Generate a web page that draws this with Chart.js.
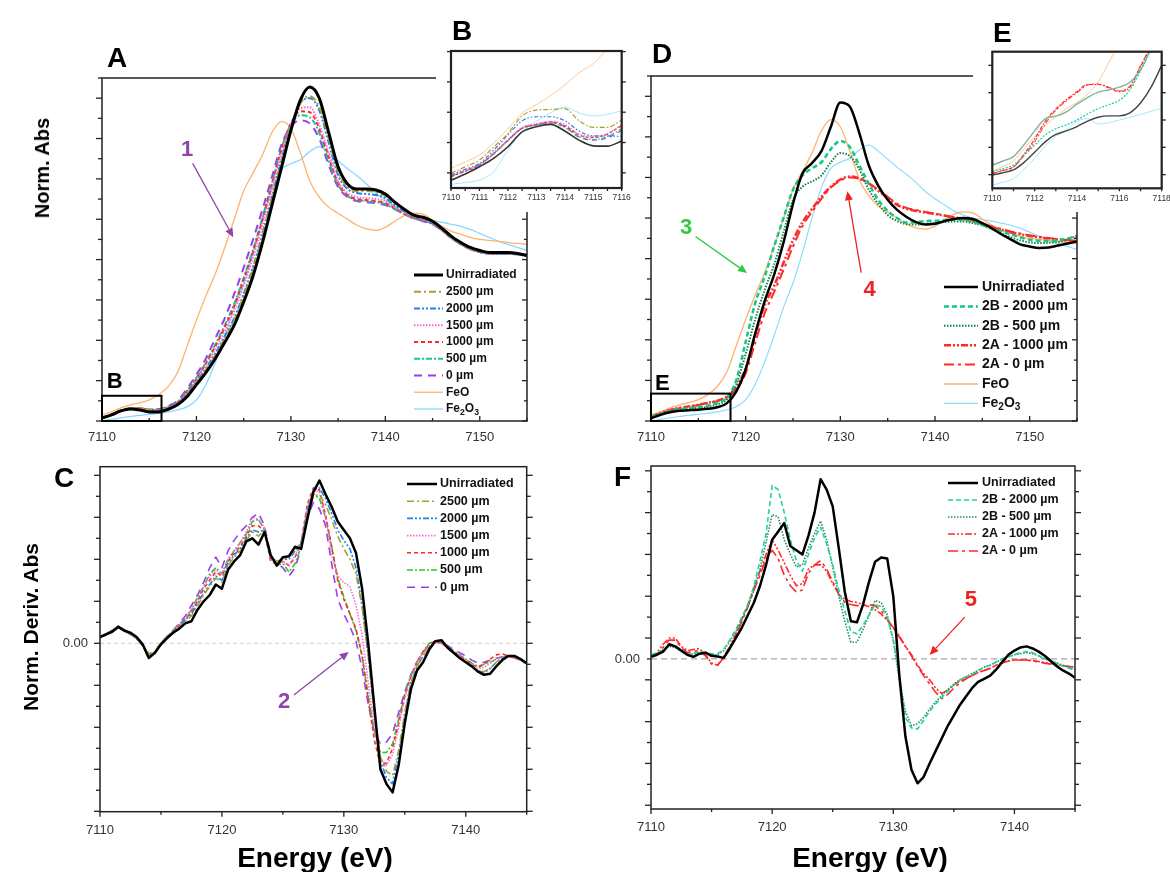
<!DOCTYPE html>
<html>
<head>
<meta charset="utf-8">
<title>Fe K-edge XANES</title>
<script src="https://cdn.jsdelivr.net/npm/chart.js@4.4.1/dist/chart.umd.min.js"></script>
<style>
  html, body { margin: 0; padding: 0; background: #fff; }
  body { position: relative; width: 1170px; height: 872px; overflow: hidden; font-family: "Liberation Sans", Arial, sans-serif; }
  canvas { position: absolute; }
  .t { position: absolute; font-weight: bold; line-height: 1; white-space: nowrap; z-index: 5; color: #000; }
</style>
</head>
<body>
<script>
const FONT = '"Liberation Sans", Arial, sans-serif';

// ---- XANES (panels A and D), 1 eV grid ----
const energyXanes = [7110,7111,7112,7113,7114,7115,7116,7117,7118,7119,7120,7121,7122,7123,7124,7125,7126,7127,7128,7129,7130,7131,7132,7133,7134,7135,7136,7137,7138,7139,7140,7141,7142,7143,7144,7145,7146,7147,7148,7149,7150,7151,7152,7153,7154,7155];

const unirrA = [0.015,0.03,0.05,0.06,0.055,0.045,0.045,0.058,0.08,0.12,0.18,0.24,0.31,0.39,0.475,0.59,0.72,0.885,1.07,1.255,1.44,1.59,1.655,1.60,1.43,1.26,1.175,1.15,1.15,1.145,1.125,1.085,1.05,1.02,1.01,0.99,0.955,0.915,0.885,0.86,0.845,0.835,0.835,0.835,0.83,0.82];
const a2500 = [0.015,0.032,0.052,0.064,0.064,0.056,0.055,0.065,0.085,0.13,0.19,0.255,0.325,0.41,0.5,0.62,0.755,0.92,1.1,1.285,1.455,1.575,1.61,1.555,1.40,1.235,1.16,1.14,1.14,1.135,1.115,1.08,1.045,1.015,1.005,0.985,0.95,0.91,0.88,0.855,0.84,0.832,0.83,0.83,0.828,0.82];
const a2000 = [0.015,0.031,0.051,0.063,0.062,0.054,0.054,0.065,0.087,0.135,0.195,0.26,0.335,0.42,0.51,0.63,0.765,0.93,1.11,1.295,1.46,1.575,1.60,1.54,1.38,1.22,1.15,1.13,1.125,1.12,1.105,1.07,1.04,1.012,1.0,0.982,0.948,0.908,0.878,0.853,0.838,0.83,0.828,0.828,0.826,0.818];
const a1500 = [0.015,0.031,0.051,0.063,0.063,0.056,0.056,0.068,0.09,0.14,0.205,0.275,0.355,0.445,0.545,0.67,0.81,0.97,1.15,1.325,1.47,1.55,1.555,1.47,1.33,1.19,1.13,1.11,1.105,1.10,1.09,1.06,1.03,1.008,0.997,0.98,0.946,0.906,0.876,0.852,0.837,0.83,0.828,0.828,0.826,0.818];
const a1000 = [0.015,0.031,0.051,0.063,0.063,0.056,0.056,0.07,0.093,0.145,0.21,0.285,0.37,0.465,0.57,0.70,0.84,1.0,1.175,1.345,1.475,1.535,1.53,1.45,1.31,1.18,1.12,1.10,1.095,1.09,1.08,1.055,1.028,1.006,0.995,0.978,0.945,0.906,0.876,0.852,0.837,0.83,0.828,0.828,0.826,0.818];
const a500 = [0.015,0.031,0.051,0.063,0.063,0.056,0.057,0.072,0.095,0.15,0.215,0.29,0.38,0.475,0.58,0.71,0.85,1.01,1.18,1.35,1.47,1.515,1.505,1.43,1.29,1.17,1.115,1.095,1.09,1.085,1.075,1.05,1.025,1.004,0.993,0.976,0.944,0.906,0.876,0.852,0.837,0.83,0.828,0.828,0.826,0.818];
const a0 = [0.015,0.031,0.051,0.063,0.062,0.056,0.058,0.075,0.1,0.16,0.23,0.31,0.41,0.51,0.63,0.76,0.9,1.05,1.21,1.37,1.46,1.49,1.475,1.40,1.27,1.16,1.11,1.09,1.085,1.08,1.07,1.05,1.025,1.005,0.99,0.975,0.945,0.91,0.88,0.855,0.84,0.83,0.83,0.83,0.83,0.825];
const feo = [0.03,0.045,0.065,0.08,0.09,0.105,0.13,0.17,0.24,0.37,0.5,0.62,0.73,0.86,1.0,1.14,1.23,1.32,1.43,1.485,1.45,1.33,1.19,1.11,1.06,1.03,1.0,0.97,0.952,0.945,0.96,0.99,1.018,1.03,1.025,0.995,0.965,0.94,0.925,0.91,0.90,0.895,0.89,0.885,0.88,0.876];
const fe2o3 = [0.0,0.008,0.016,0.022,0.028,0.033,0.038,0.045,0.055,0.07,0.105,0.18,0.29,0.42,0.56,0.68,0.83,1.0,1.15,1.245,1.275,1.295,1.335,1.36,1.33,1.29,1.25,1.215,1.175,1.13,1.095,1.065,1.035,1.015,1.0,0.993,0.985,0.975,0.965,0.95,0.93,0.91,0.89,0.875,0.86,0.845];

const unirrD = [0.013,0.03,0.043,0.05,0.053,0.056,0.06,0.068,0.087,0.145,0.255,0.43,0.59,0.72,0.88,1.07,1.22,1.27,1.33,1.45,1.57,1.55,1.42,1.26,1.16,1.09,1.04,1.005,0.98,0.968,0.972,0.985,0.995,1.0,0.995,0.975,0.95,0.92,0.895,0.87,0.86,0.853,0.855,0.865,0.875,0.885];
const b2000 = [0.02,0.035,0.05,0.058,0.063,0.068,0.075,0.09,0.115,0.2,0.39,0.58,0.71,0.86,1.0,1.14,1.21,1.245,1.275,1.34,1.38,1.35,1.26,1.17,1.09,1.035,1.0,0.978,0.98,0.985,0.987,0.99,0.992,0.99,0.98,0.965,0.95,0.935,0.92,0.905,0.893,0.888,0.886,0.89,0.9,0.91];
const b500 = [0.02,0.035,0.048,0.055,0.06,0.064,0.07,0.082,0.105,0.18,0.33,0.5,0.645,0.77,0.93,1.09,1.155,1.18,1.21,1.275,1.32,1.305,1.24,1.14,1.07,1.015,0.985,0.97,0.968,0.972,0.976,0.98,0.983,0.983,0.975,0.965,0.945,0.925,0.905,0.89,0.88,0.877,0.878,0.882,0.895,0.913];
const c1000 = [0.02,0.04,0.055,0.065,0.072,0.08,0.09,0.1,0.12,0.17,0.26,0.42,0.57,0.665,0.78,0.89,0.98,1.045,1.105,1.155,1.19,1.205,1.195,1.17,1.135,1.10,1.065,1.045,1.035,1.027,1.02,1.012,1.003,0.996,0.985,0.97,0.955,0.943,0.93,0.92,0.912,0.905,0.9,0.894,0.89,0.885];
const c0 = [0.02,0.038,0.053,0.063,0.07,0.078,0.088,0.098,0.115,0.155,0.235,0.385,0.53,0.635,0.745,0.86,0.96,1.03,1.095,1.15,1.185,1.20,1.195,1.172,1.14,1.105,1.07,1.05,1.04,1.03,1.022,1.013,1.004,0.997,0.987,0.973,0.958,0.946,0.934,0.924,0.915,0.908,0.902,0.896,0.892,0.888];

// ---- inset B (pre-edge, arbitrary units) ----
const energyInsetB = [7110,7110.5,7111,7111.5,7112,7112.5,7113,7113.5,7114,7114.5,7115,7115.5,7116];
const preB_unirr = [-0.24,-0.04,0.2,0.48,0.86,1.35,1.52,1.6,1.38,1.08,0.89,0.88,1.05];
const preB_2500 = [-0.02,0.2,0.42,0.85,1.3,1.88,2.07,2.09,2.12,1.72,1.5,1.5,1.74];
const preB_2000 = [-0.07,0.12,0.31,0.75,1.25,1.72,1.85,1.85,1.72,1.38,1.22,1.22,1.2];
const preB_1500 = [-0.1,0.08,0.28,0.66,1.1,1.5,1.62,1.7,1.6,1.28,1.2,1.3,1.58];
const preB_1000 = [-0.12,0.06,0.26,0.64,1.08,1.48,1.6,1.68,1.55,1.25,1.16,1.28,1.56];
const preB_500 = [-0.13,0.05,0.25,0.62,1.06,1.46,1.57,1.64,1.5,1.2,1.1,1.2,1.45];
const preB_0 = [-0.11,0.07,0.27,0.64,1.07,1.47,1.58,1.66,1.52,1.18,1.08,1.15,1.4];
const preB_feo = [0.15,0.36,0.59,0.98,1.45,1.97,2.25,2.55,2.9,3.3,3.6,4.1,4.6];
const preB_fe2o3 = [-0.38,-0.32,-0.24,0.04,0.75,1.35,1.7,1.98,2.17,1.98,1.88,1.93,2.05];

// ---- inset E ----
const energyInsetE = [7110,7110.5,7111,7111.5,7112,7112.5,7113,7113.5,7114,7114.5,7115,7115.5,7116,7116.5,7117,7117.5,7118];
const preE_unirr = [-0.01,0.07,0.17,0.45,0.82,1.2,1.47,1.6,1.76,1.96,2.1,2.15,2.15,2.26,2.62,3.2,4.0];
const preE_2B2000 = [0.11,0.22,0.35,0.7,1.08,1.45,1.68,1.82,2.0,2.22,2.42,2.56,2.72,3.1,3.8,4.6,5.3];
const preE_2B500 = [0.35,0.5,0.66,1.1,1.6,2.05,2.14,2.3,2.58,2.82,3.02,3.1,3.2,3.38,3.83,4.6,5.3];
const preE_2A1000 = [0.05,0.16,0.29,0.75,1.3,1.95,2.4,2.75,3.04,3.3,3.3,3.18,3.04,3.2,3.95,4.7,5.4];
const preE_2A0 = [0.03,0.14,0.27,0.7,1.2,1.85,2.35,2.7,3.0,3.28,3.32,3.2,3.07,3.25,4.0,4.7,5.4];
const preE_feo = [0.11,0.3,0.5,0.95,1.4,1.8,2.12,2.42,2.64,2.95,3.4,4.1,4.8,5.5,6.2,6.9,7.6];
const preE_fe2o3 = [-0.38,-0.28,-0.15,0.2,0.6,1.05,1.4,1.65,1.95,2.05,1.85,1.9,2.0,2.1,2.2,2.32,2.43];

// ---- first derivatives (panels C and F), units of 0.01 ----
const energyDeriv = [7110,7110.5,7111,7111.5,7112,7112.5,7113,7113.5,7114,7114.5,7115,7115.5,7116,7116.5,7117,7117.5,7118,7118.5,7119,7119.5,7120,7120.5,7121,7121.5,7122,7122.5,7123,7123.5,7124,7124.5,7125,7125.5,7126,7126.5,7127,7127.5,7128,7128.5,7129,7129.5,7130,7130.5,7131,7131.5,7132,7132.5,7133,7133.5,7134,7134.5,7135,7135.5,7136,7136.5,7137,7137.5,7138,7138.5,7139,7139.5,7140,7140.5,7141,7141.5,7142,7142.5,7143,7143.5,7144,7144.5,7145];

const dUnirrC = [0.3,0.42,0.55,0.78,0.6,0.5,0.3,-0.05,-0.7,-0.45,-0.05,0.25,0.5,0.7,0.95,1.05,1.6,2.0,2.3,2.8,2.6,3.5,3.9,4.2,4.85,5.0,4.7,5.3,4.2,3.7,4.1,4.15,4.6,4.5,5.9,7.2,7.75,7.1,6.5,5.8,5.4,5.0,4.3,2.6,0.0,-3.0,-6.0,-6.7,-7.1,-5.8,-3.8,-2.2,-1.3,-0.9,-0.3,0.1,0.15,-0.2,-0.45,-0.7,-0.9,-1.1,-1.35,-1.5,-1.45,-1.1,-0.8,-0.6,-0.6,-0.75,-0.95];
const d2500 = [0.3,0.45,0.6,0.8,0.62,0.45,0.25,-0.1,-0.6,-0.45,-0.02,0.28,0.55,0.75,1.05,1.3,1.8,2.3,2.7,3.1,2.9,3.7,4.1,4.4,4.9,5.3,5.1,5.4,4.1,3.9,4.0,4.1,4.5,4.7,6.0,7.0,7.1,6.6,5.9,5.1,4.5,4.0,3.3,1.7,-0.6,-3.3,-5.4,-6.1,-6.3,-5.1,-3.3,-1.9,-1.1,-0.6,-0.2,0.1,0.1,-0.2,-0.45,-0.7,-0.9,-1.1,-1.3,-1.35,-1.2,-0.9,-0.7,-0.6,-0.65,-0.8,-0.95];
const d2000 = [0.28,0.45,0.62,0.82,0.6,0.42,0.22,-0.12,-0.65,-0.5,-0.05,0.27,0.55,0.8,1.1,1.4,1.9,2.4,2.8,3.2,3.0,3.8,4.2,4.5,5.0,5.4,5.3,5.4,4.1,3.9,4.0,4.0,4.4,4.8,6.2,7.3,7.4,6.9,6.2,5.4,4.9,4.5,3.6,1.8,-0.6,-3.4,-5.6,-6.4,-6.7,-5.3,-3.4,-1.9,-1.1,-0.6,-0.2,0.1,0.1,-0.2,-0.45,-0.7,-0.9,-1.1,-1.3,-1.4,-1.2,-0.9,-0.7,-0.6,-0.65,-0.8,-1.0];
const d1500 = [0.32,0.46,0.6,0.78,0.66,0.46,0.26,-0.08,-0.55,-0.42,0.02,0.32,0.6,0.9,1.2,1.6,2.1,2.7,3.2,3.5,3.3,4.0,4.4,4.8,5.3,6.0,5.9,5.5,4.0,3.8,3.9,3.7,4.2,4.7,6.5,7.3,7.2,6.0,4.2,3.2,2.9,2.7,1.8,0.4,-1.9,-4.0,-5.5,-5.8,-5.3,-4.0,-2.6,-1.6,-0.9,-0.45,-0.1,0.05,0.0,-0.2,-0.4,-0.6,-0.85,-1.05,-1.2,-1.15,-0.95,-0.75,-0.65,-0.6,-0.7,-0.8,-0.95];
const d1000 = [0.3,0.44,0.58,0.8,0.64,0.44,0.24,-0.1,-0.58,-0.45,0.0,0.3,0.58,0.85,1.15,1.5,2.0,2.6,3.0,3.4,3.2,3.9,4.3,4.6,5.1,5.6,5.6,5.3,3.9,3.8,3.9,3.7,4.1,4.8,6.6,7.4,7.3,6.1,4.6,3.0,2.1,1.4,0.7,-0.6,-2.7,-4.6,-5.8,-5.7,-5.0,-3.8,-2.5,-1.6,-0.9,-0.4,-0.05,0.1,0.0,-0.2,-0.4,-0.6,-0.8,-1.0,-1.15,-1.0,-0.75,-0.55,-0.5,-0.6,-0.7,-0.8,-0.95];
const d500 = [0.32,0.46,0.62,0.82,0.66,0.46,0.26,-0.08,-0.5,-0.4,0.02,0.32,0.62,0.9,1.2,1.6,2.2,2.7,3.3,3.6,3.3,4.0,4.4,4.8,5.2,5.8,5.9,5.4,4.0,3.7,3.8,3.4,3.8,4.6,6.4,7.1,6.9,6.0,4.6,3.1,2.2,1.4,0.6,-0.6,-2.5,-4.2,-5.2,-5.2,-4.8,-3.6,-2.4,-1.5,-0.9,-0.4,0.0,0.1,0.0,-0.15,-0.35,-0.55,-0.75,-0.95,-1.1,-1.0,-0.9,-0.75,-0.65,-0.6,-0.65,-0.8,-0.95];
const d0 = [0.3,0.44,0.6,0.8,0.64,0.44,0.24,-0.1,-0.55,-0.42,0.02,0.32,0.62,0.95,1.3,1.8,2.3,2.9,3.6,4.1,3.6,4.4,4.9,5.3,5.6,6.0,6.2,5.6,4.2,3.8,3.6,3.2,3.6,4.5,6.0,6.7,6.4,5.6,3.8,2.1,1.4,0.8,0.1,-1.2,-2.9,-4.2,-4.8,-4.7,-4.3,-3.3,-2.3,-1.5,-0.9,-0.4,-0.1,0.1,0.0,-0.1,-0.3,-0.45,-0.6,-0.8,-0.95,-0.9,-0.8,-0.7,-0.65,-0.6,-0.7,-0.8,-0.95];

const dUnirrF = [0.1,0.2,0.35,0.7,0.6,0.4,0.2,0.1,0.25,0.3,0.15,0.12,0.05,0.5,1.0,1.5,2.1,2.7,3.5,4.5,5.7,6.1,6.5,5.4,5.2,5.0,5.9,7.0,8.6,8.1,7.3,5.3,3.2,1.8,1.75,2.6,3.7,4.65,4.85,4.8,3.0,-0.8,-3.7,-5.3,-5.95,-5.65,-5.0,-4.4,-3.8,-3.2,-2.7,-2.2,-1.8,-1.4,-1.1,-0.95,-0.8,-0.5,-0.15,0.2,0.4,0.55,0.6,0.5,0.35,0.15,-0.1,-0.35,-0.55,-0.7,-0.9];
const d2B2000 = [0.2,0.3,0.45,0.65,0.6,0.35,0.2,0.25,0.35,0.3,0.25,0.25,0.45,0.9,1.4,2.0,2.6,3.5,4.7,6.0,8.3,8.1,7.0,5.7,4.7,4.2,5.0,5.8,6.3,5.5,4.5,3.3,2.3,1.3,1.2,1.6,2.1,2.6,2.5,2.0,0.9,-0.8,-2.8,-3.3,-3.35,-2.95,-2.5,-2.15,-1.85,-1.55,-1.25,-1.0,-0.85,-0.75,-0.55,-0.4,-0.3,-0.15,0.0,0.1,0.2,0.3,0.35,0.3,0.15,0.0,-0.1,-0.2,-0.35,-0.45,-0.55];
const d2B500 = [0.15,0.25,0.4,0.6,0.55,0.35,0.2,0.25,0.3,0.3,0.2,0.2,0.4,0.85,1.3,1.9,2.5,3.3,4.3,5.6,6.9,6.8,5.7,5.0,4.4,4.5,5.3,6.0,6.6,5.7,4.4,3.0,1.8,0.8,0.8,1.4,2.1,2.8,2.7,2.1,0.9,-1.0,-2.5,-3.2,-3.1,-2.8,-2.4,-2.05,-1.75,-1.45,-1.2,-1.0,-0.85,-0.7,-0.55,-0.4,-0.3,-0.15,0.0,0.1,0.2,0.25,0.3,0.25,0.15,0.0,-0.1,-0.2,-0.3,-0.4,-0.5];
const d2A1000 = [0.1,0.3,0.7,1.0,1.0,0.6,0.4,0.45,0.5,0.2,-0.2,-0.3,0.1,0.6,1.2,1.9,2.6,3.4,4.2,5.0,5.7,5.2,4.6,4.0,3.5,3.6,4.3,4.5,4.5,4.2,3.6,3.1,2.85,2.75,2.7,2.6,2.5,2.35,2.15,1.85,1.5,1.1,0.6,0.2,-0.3,-0.7,-1.0,-1.4,-1.65,-1.5,-1.25,-1.05,-0.9,-0.8,-0.65,-0.55,-0.45,-0.3,-0.15,-0.1,-0.05,-0.05,-0.05,-0.08,-0.12,-0.18,-0.22,-0.28,-0.32,-0.36,-0.38];
const d2A0 = [0.1,0.25,0.55,0.9,0.9,0.55,0.3,0.35,0.4,0.15,-0.25,-0.3,0.05,0.5,1.1,1.8,2.5,3.3,4.0,4.8,5.2,4.8,4.0,3.5,3.2,3.3,4.1,4.5,4.7,4.3,3.7,3.1,2.7,2.6,2.55,2.55,2.6,2.55,2.3,1.9,1.5,1.05,0.6,0.15,-0.35,-0.8,-1.2,-1.6,-1.9,-1.7,-1.4,-1.15,-0.95,-0.8,-0.65,-0.55,-0.45,-0.3,-0.2,-0.1,-0.05,-0.05,-0.05,-0.1,-0.15,-0.2,-0.25,-0.3,-0.33,-0.36,-0.4];

// tick labels
const mainTicksXanes = [7110, 7120, 7130, 7140, 7150];
const mainTicksDeriv = [7110, 7120, 7130, 7140];
const insetTicksB = [7110, 7111, 7112, 7113, 7114, 7115, 7116];
const insetTicksE = [7110, 7112, 7114, 7116, 7118];

// ---------- helpers ----------
const DECOR = new Map();

function drawLabel(c, txt, x, y, size) {
  c.fillStyle = '#111'; c.textAlign = 'left'; c.textBaseline = 'middle';
  const subs = '₀₁₂₃₄₅₆₇₈₉';
  for (const ch of txt) {
    const k = subs.indexOf(ch);
    if (k >= 0) {
      c.font = `bold ${size * 0.72}px ${FONT}`;
      c.fillText(String(k), x, y + size * 0.3);
      x += c.measureText(String(k)).width;
    } else {
      c.font = `bold ${size}px ${FONT}`;
      c.fillText(ch, x, y);
      x += c.measureText(ch).width;
    }
  }
}

const decor = {
  id: 'decor',
  beforeDraw(chart) {
    const o = DECOR.get(chart.canvas);
    if (!o.white) return;
    const c = chart.ctx;
    c.save(); c.fillStyle = '#fff'; c.fillRect(0, 0, chart.width, chart.height); c.restore();
  },
  beforeDatasetsDraw(chart) {
    const o = DECOR.get(chart.canvas);
    if (!o.zero) return;
    const c = chart.ctx, a = chart.chartArea, y = chart.scales.y.getPixelForValue(0);
    c.save(); c.strokeStyle = o.zero.color; c.lineWidth = o.zero.width; c.setLineDash(o.zero.dash);
    c.beginPath(); c.moveTo(a.left, y); c.lineTo(a.right, y); c.stroke(); c.restore();
  },
  afterDraw(chart) {
    const o = DECOR.get(chart.canvas);
    const c = chart.ctx, a = chart.chartArea, sx = chart.scales.x, sy = chart.scales.y;
    const P = (e, v) => [sx.getPixelForValue(e), sy.getPixelForValue(v)];
    c.save();
    c.strokeStyle = '#222'; c.lineWidth = o.frameWidth; c.setLineDash([]);
    c.strokeRect(a.left, a.top, a.right - a.left, a.bottom - a.top);

    (o.ticks || []).forEach(t => {
      const sc = t.axis === 'x' ? sx : sy;
      const n = Math.round((t.to - t.from) / t.step);
      const dir = { left: [-1, 0], right: [1, 0], bottom: [0, 1] }[t.side];
      const s = t.inward ? -1 : 1;
      c.lineWidth = t.lw || 1.3;
      for (let i = 0; i <= n; i++) {
        const p = sc.getPixelForValue(t.from + i * t.step);
        const len = (i % (t.every || 1) === 0) ? t.len : t.minor;
        const x0 = t.side === 'left' ? a.left : t.side === 'right' ? a.right : p;
        const y0 = t.side === 'bottom' ? a.bottom : p;
        c.beginPath(); c.moveTo(x0, y0); c.lineTo(x0 + dir[0] * s * len, y0 + dir[1] * s * len); c.stroke();
      }
    });

    (o.boxes || []).forEach(b => {
      const [x0, y0] = P(b.x0, b.y0), [x1, y1] = P(b.x1, b.y1);
      c.lineWidth = 2; c.strokeStyle = '#000';
      c.strokeRect(x0, y1, x1 - x0, y0 - y1);
      c.fillStyle = '#000'; c.font = `bold ${b.size}px ${FONT}`;
      c.textAlign = 'left'; c.textBaseline = 'alphabetic';
      const [tx, ty] = P(b.labelAt[0], b.labelAt[1]);
      c.fillText(b.label, tx, ty);
    });

    (o.arrows || []).forEach(ar => {
      const [x0, y0] = P(ar.from[0], ar.from[1]), [x1, y1] = P(ar.to[0], ar.to[1]);
      c.strokeStyle = ar.color; c.fillStyle = ar.color; c.lineWidth = 1.3;
      const ang = Math.atan2(y1 - y0, x1 - x0), h = 9, w = 4;
      const bx = x1 - h * Math.cos(ang), by = y1 - h * Math.sin(ang);
      c.beginPath(); c.moveTo(x0, y0); c.lineTo(bx, by); c.stroke();
      c.beginPath(); c.moveTo(x1, y1);
      c.lineTo(bx + w * Math.sin(ang), by - w * Math.cos(ang));
      c.lineTo(bx - w * Math.sin(ang), by + w * Math.cos(ang));
      c.closePath(); c.fill();
      c.font = `bold ${ar.size}px ${FONT}`; c.textAlign = 'center'; c.textBaseline = 'middle';
      const [tx, ty] = P(ar.at[0], ar.at[1]);
      c.fillText(ar.text, tx, ty);
    });

    if (o.legend) {
      const L = o.legend;
      chart.data.datasets.forEach((d, i) => {
        const y = L.y + i * L.row - o.origin[1], x = L.x - o.origin[0];
        c.strokeStyle = d.borderColor; c.lineWidth = d.borderWidth; c.setLineDash(d.borderDash || []);
        c.beginPath(); c.moveTo(x, y); c.lineTo(x + L.len, y); c.stroke();
        c.setLineDash([]);
        drawLabel(c, d.label, x + L.len + L.gap, y, L.size);
      });
    }
    c.restore();
  }
};

function panel(p) {
  const cv = document.createElement('canvas');
  const [bl, bt, bw, bh] = p.box;
  cv.width = bw; cv.height = bh;
  cv.style.left = bl + 'px'; cv.style.top = bt + 'px';
  document.body.appendChild(cv);
  const [al, at, ar, ab] = p.area;
  const wy = al - bl, tp = at - bt, rp = bl + bw - ar, hx = bt + bh - ab;
  DECOR.set(cv, Object.assign({ origin: [bl, bt] }, p.decor));
  return new Chart(cv, {
    type: 'line',
    data: {
      datasets: p.series.map(s => ({
        label: s.label,
        data: p.energy.map((e, i) => ({ x: e, y: s.values[i] })),
        borderColor: s.color, borderWidth: s.width, borderDash: s.dash || [],
        pointRadius: 0, fill: false,
        tension: p.smooth ? 0.4 : 0,
        cubicInterpolationMode: p.smooth ? 'monotone' : 'default',
        borderJoinStyle: 'round'
      }))
    },
    options: {
      responsive: false, animation: false, devicePixelRatio: 1, events: [],
      layout: { autoPadding: false, padding: { left: 0, top: tp, right: rp, bottom: 0 } },
      plugins: { legend: { display: false }, tooltip: { enabled: false } },
      scales: {
        x: {
          type: 'linear', min: p.x[0], max: p.x[1],
          grid: { display: false, drawTicks: false }, border: { display: false },
          ticks: {
            stepSize: p.x[2], padding: p.xPad, color: '#333', maxRotation: 0, autoSkip: false,
            font: { family: FONT, size: p.xFont },
            callback: v => p.xLabels.includes(v) ? String(v) : ''
          },
          afterFit: s => { s.height = hx; s.paddingLeft = 0; s.paddingRight = 0; }
        },
        y: {
          type: 'linear', min: p.y[0], max: p.y[1],
          grid: { display: false, drawTicks: false }, border: { display: false },
          ticks: {
            display: !!p.yZero, stepSize: p.y[2], padding: p.yPad || 0, color: '#333',
            font: { family: FONT, size: 13 },
            callback: v => (p.yZero && Math.abs(v) < 1e-9) ? p.yZero : ''
          },
          afterFit: s => { s.width = wy; s.paddingTop = 0; s.paddingBottom = 0; }
        }
      }
    },
    plugins: [decor]
  });
}

function text(txt, x, base, size, center) {
  const d = document.createElement('div');
  d.className = 't'; d.textContent = txt;
  d.style.fontSize = size + 'px';
  d.style.left = x + 'px';
  d.style.top = (base - 0.8465 * size) + 'px';
  if (center) d.style.transform = 'translateX(-50%)';
  document.body.appendChild(d);
}
function vtext(txt, cx, cy, size) {
  const d = document.createElement('div');
  d.className = 't'; d.textContent = txt;
  d.style.fontSize = size + 'px';
  d.style.left = cx + 'px'; d.style.top = cy + 'px';
  d.style.transform = 'translate(-50%,-50%) rotate(-90deg)';
  document.body.appendChild(d);
}

// ---------- series styles ----------
const BLACK = '#000000', OLIVE = '#a8a02a', BLUE = '#1a84ee', PINK = '#ff66d8', RED = '#ff2a2a',
      TEAL = '#14c98c', PURPLE = '#9a3cf0', ORANGE = '#ffb26e', SKY = '#86d9ff',
      GREEN = '#22cc22', DKGREEN = '#17804a', CYAN = '#1fd3a4';

// ---------- Panel A ----------
panel({
  box: [0, 60, 545, 390], area: [102, 78, 527, 421],
  energy: energyXanes, smooth: true,
  x: [7110, 7155, 10], xLabels: mainTicksXanes, xPad: 9, xFont: 13,
  y: [0, 1.7, 0.1],
  series: [
    { label: 'Unirradiated', values: unirrA, color: BLACK, width: 3 },
    { label: '2500 µm', values: a2500, color: OLIVE, width: 2, dash: [7, 3, 2, 3] },
    { label: '2000 µm', values: a2000, color: BLUE, width: 2, dash: [6, 2, 2, 2, 2, 2] },
    { label: '1500 µm', values: a1500, color: PINK, width: 2, dash: [1.5, 1.5] },
    { label: '1000 µm', values: a1000, color: RED, width: 2, dash: [4, 3] },
    { label: '500 µm', values: a500, color: TEAL, width: 2, dash: [6, 2, 2, 2] },
    { label: '0 µm', values: a0, color: PURPLE, width: 2, dash: [8, 6] },
    { label: 'FeO', values: feo, color: ORANGE, width: 1.3 },
    { label: 'Fe₂O₃', values: fe2o3, color: SKY, width: 1.3 }
  ],
  decor: {
    frameWidth: 1.5,
    ticks: [
      { axis: 'y', side: 'left', from: 0, to: 1.7, step: 0.1, every: 2, len: 6, minor: 4 },
      { axis: 'y', side: 'right', inward: true, from: 0, to: 1.7, step: 0.1, every: 2, len: 5, minor: 3 },
      { axis: 'x', side: 'bottom', inward: true, from: 7110, to: 7155, step: 5, every: 2, len: 5, minor: 3 }
    ],
    boxes: [{ x0: 7110, x1: 7116.3, y0: 0, y1: 0.125, label: 'B', labelAt: [7110.5, 0.163], size: 22 }],
    arrows: [{ from: [7119.6, 1.277], to: [7123.9, 0.911], color: '#8e44ad', text: '1', at: [7119.0, 1.345], size: 22 }],
    legend: { x: 414, y: 275, row: 16.75, len: 29, gap: 3, size: 12 }
  }
});

// ---------- Panel D ----------
panel({
  box: [560, 60, 600, 390], area: [651, 76, 1077, 421],
  energy: energyXanes, smooth: true,
  x: [7110, 7155, 10], xLabels: mainTicksXanes, xPad: 9, xFont: 13,
  y: [0, 1.7, 0.1],
  series: [
    { label: 'Unirradiated', values: unirrD, color: BLACK, width: 2.5 },
    { label: '2B - 2000 µm', values: b2000, color: '#12c884', width: 2.5, dash: [5, 3] },
    { label: '2B - 500 µm', values: b500, color: DKGREEN, width: 2, dash: [1.5, 1.5] },
    { label: '2A - 1000 µm', values: c1000, color: RED, width: 2.5, dash: [7, 2, 2, 2, 2, 2] },
    { label: '2A - 0 µm', values: c0, color: RED, width: 2, dash: [10, 4, 3, 4] },
    { label: 'FeO', values: feo, color: ORANGE, width: 1.3 },
    { label: 'Fe₂O₃', values: fe2o3, color: SKY, width: 1.1 }
  ],
  decor: {
    frameWidth: 1.5,
    ticks: [
      { axis: 'y', side: 'left', from: 0, to: 1.7, step: 0.1, every: 2, len: 6, minor: 4 },
      { axis: 'y', side: 'right', inward: true, from: 0, to: 1.7, step: 0.1, every: 2, len: 5, minor: 3 },
      { axis: 'x', side: 'bottom', inward: true, from: 7110, to: 7155, step: 5, every: 2, len: 5, minor: 3 }
    ],
    boxes: [{ x0: 7110, x1: 7118.4, y0: 0, y1: 0.135, label: 'E', labelAt: [7110.42, 0.153], size: 22 }],
    arrows: [
      { from: [7114.7, 0.909], to: [7120.15, 0.729], color: '#2ecc40', text: '3', at: [7113.7, 0.953], size: 22 },
      { from: [7132.2, 0.731], to: [7130.75, 1.132], color: '#ee2222', text: '4', at: [7133.1, 0.647], size: 22 }
    ],
    legend: { x: 944, y: 287, row: 19.4, len: 34, gap: 4, size: 14 }
  }
});

// ---------- Panel C ----------
panel({
  box: [0, 455, 545, 390], area: [100, 466.7, 526.7, 811.7],
  energy: energyDeriv, smooth: false,
  x: [7110, 7145, 10], xLabels: mainTicksDeriv, xPad: 11, xFont: 13,
  y: [-8.02, 8.41, 1], yZero: '0.00', yPad: 12,
  series: [
    { label: 'Unirradiated', values: dUnirrC, color: BLACK, width: 2.5 },
    { label: '2500 µm', values: d2500, color: OLIVE, width: 1.6, dash: [7, 3, 2, 3] },
    { label: '2000 µm', values: d2000, color: BLUE, width: 1.6, dash: [6, 2, 2, 2, 2, 2] },
    { label: '1500 µm', values: d1500, color: PINK, width: 1.6, dash: [1.5, 1.5] },
    { label: '1000 µm', values: d1000, color: RED, width: 1.6, dash: [4, 3] },
    { label: '500 µm', values: d500, color: GREEN, width: 1.6, dash: [6, 2, 2, 2] },
    { label: '0 µm', values: d0, color: PURPLE, width: 1.6, dash: [8, 6] }
  ],
  decor: {
    frameWidth: 1.5,
    zero: { color: '#d0d0d0', width: 1, dash: [4, 3] },
    ticks: [
      { axis: 'y', side: 'left', from: -8, to: 8, step: 1, every: 2, len: 6, minor: 4 },
      { axis: 'y', side: 'right', from: -8, to: 8, step: 1, every: 2, len: 6, minor: 4 },
      { axis: 'x', side: 'bottom', from: 7110, to: 7145, step: 5, every: 2, len: 5, minor: 3 }
    ],
    arrows: [{ from: [7125.9, -2.46], to: [7130.4, -0.41], color: '#8e44ad', text: '2', at: [7125.1, -2.8], size: 22 }],
    legend: { x: 407, y: 484, row: 17.2, len: 30, gap: 3, size: 12.5 }
  }
});

// ---------- Panel F ----------
panel({
  box: [560, 455, 540, 390], area: [651, 466, 1075, 809],
  energy: energyDeriv, smooth: false,
  x: [7110, 7145, 10], xLabels: mainTicksDeriv, xPad: 11, xFont: 13,
  y: [-7.18, 9.23, 1], yZero: '0.00', yPad: 11,
  series: [
    { label: 'Unirradiated', values: dUnirrF, color: BLACK, width: 2.5 },
    { label: '2B - 2000 µm', values: d2B2000, color: CYAN, width: 1.6, dash: [5, 3] },
    { label: '2B - 500 µm', values: d2B500, color: '#2a8a5a', width: 1.6, dash: [1.5, 1.5] },
    { label: '2A - 1000 µm', values: d2A1000, color: RED, width: 1.6, dash: [7, 2, 2, 2, 2, 2] },
    { label: '2A - 0 µm', values: d2A0, color: RED, width: 1.6, dash: [10, 4, 3, 4] }
  ],
  decor: {
    frameWidth: 1.5,
    zero: { color: '#a8a8a8', width: 1.2, dash: [6, 4] },
    ticks: [
      { axis: 'y', side: 'left', from: -7, to: 9, step: 1, every: 2, len: 6, minor: 4 },
      { axis: 'y', side: 'right', from: -7, to: 9, step: 1, every: 2, len: 6, minor: 4 },
      { axis: 'x', side: 'bottom', from: 7110, to: 7145, step: 5, every: 2, len: 5, minor: 3 }
    ],
    arrows: [{ from: [7135.9, 2.0], to: [7133.0, 0.19], color: '#ee2222', text: '5', at: [7136.4, 2.82], size: 22 }],
    legend: { x: 948, y: 483, row: 17, len: 30, gap: 4, size: 12.5 }
  }
});

// ---------- Inset B ----------
panel({
  box: [436, 44, 200, 168], area: [451, 51, 621.7, 188],
  energy: energyInsetB, smooth: true,
  x: [7110, 7116, 1], xLabels: insetTicksB, xPad: 5, xFont: 8.5,
  y: [-0.5, 4.02, 1],
  series: [
    { label: 'Unirradiated', values: preB_unirr, color: '#333', width: 1.6 },
    { label: '2500 µm', values: preB_2500, color: OLIVE, width: 1.2, dash: [5, 2, 1.5, 2] },
    { label: '2000 µm', values: preB_2000, color: BLUE, width: 1.2, dash: [4, 2, 1.5, 2, 1.5, 2] },
    { label: '1500 µm', values: preB_1500, color: PINK, width: 1.3, dash: [1.5, 1.5] },
    { label: '1000 µm', values: preB_1000, color: RED, width: 1.3, dash: [3, 2] },
    { label: '500 µm', values: preB_500, color: TEAL, width: 1.2, dash: [4, 2, 1.5, 2] },
    { label: '0 µm', values: preB_0, color: PURPLE, width: 1.2, dash: [5, 4] },
    { label: 'FeO', values: preB_feo, color: '#ffc89a', width: 1 },
    { label: 'Fe₂O₃', values: preB_fe2o3, color: '#a8e6ff', width: 1 }
  ],
  decor: {
    white: true, frameWidth: 2.2,
    ticks: [
      { axis: 'y', side: 'left', from: 0, to: 4, step: 1, len: 4 },
      { axis: 'y', side: 'right', from: 0, to: 4, step: 1, len: 4 },
      { axis: 'x', side: 'bottom', from: 7110, to: 7116, step: 0.5, len: 3 }
    ]
  }
});

// ---------- Inset E ----------
panel({
  box: [973, 44, 197, 168], area: [992.3, 51.7, 1161.7, 188.3],
  energy: energyInsetE, smooth: true,
  x: [7110, 7118, 2], xLabels: insetTicksE, xPad: 5, xFont: 8.5,
  y: [-0.5, 4.5, 1],
  series: [
    { label: 'Unirradiated', values: preE_unirr, color: '#444', width: 1.4 },
    { label: '2B - 2000 µm', values: preE_2B2000, color: CYAN, width: 1.3, dash: [2, 1.5] },
    { label: '2B - 500 µm', values: preE_2B500, color: '#7fb49a', width: 1.4 },
    { label: '2A - 1000 µm', values: preE_2A1000, color: RED, width: 1.2, dash: [4, 1.5, 1.5, 1.5] },
    { label: '2A - 0 µm', values: preE_2A0, color: '#ff5050', width: 1.1, dash: [5, 2, 2, 2] },
    { label: 'FeO', values: preE_feo, color: '#ffc89a', width: 1 },
    { label: 'Fe₂O₃', values: preE_fe2o3, color: '#a8e6ff', width: 1 }
  ],
  decor: {
    white: true, frameWidth: 2.2,
    ticks: [
      { axis: 'y', side: 'left', from: 0, to: 4, step: 1, len: 4 },
      { axis: 'y', side: 'right', from: 0, to: 4, step: 1, len: 4 },
      { axis: 'x', side: 'bottom', from: 7110, to: 7118, step: 1, len: 3 }
    ]
  }
});

// ---------- text ----------
text('A', 107, 68, 28);
text('B', 452, 41, 28);
text('D', 652, 64, 28);
text('E', 993, 43, 28);
text('C', 54, 488, 28);
text('F', 614, 487, 28);
vtext('Norm. Abs', 42, 168, 20);
vtext('Norm. Deriv. Abs', 30, 627, 21);
text('Energy (eV)', 315, 868, 28, true);
text('Energy (eV)', 870, 868, 28, true);
</script>
</body>
</html>
